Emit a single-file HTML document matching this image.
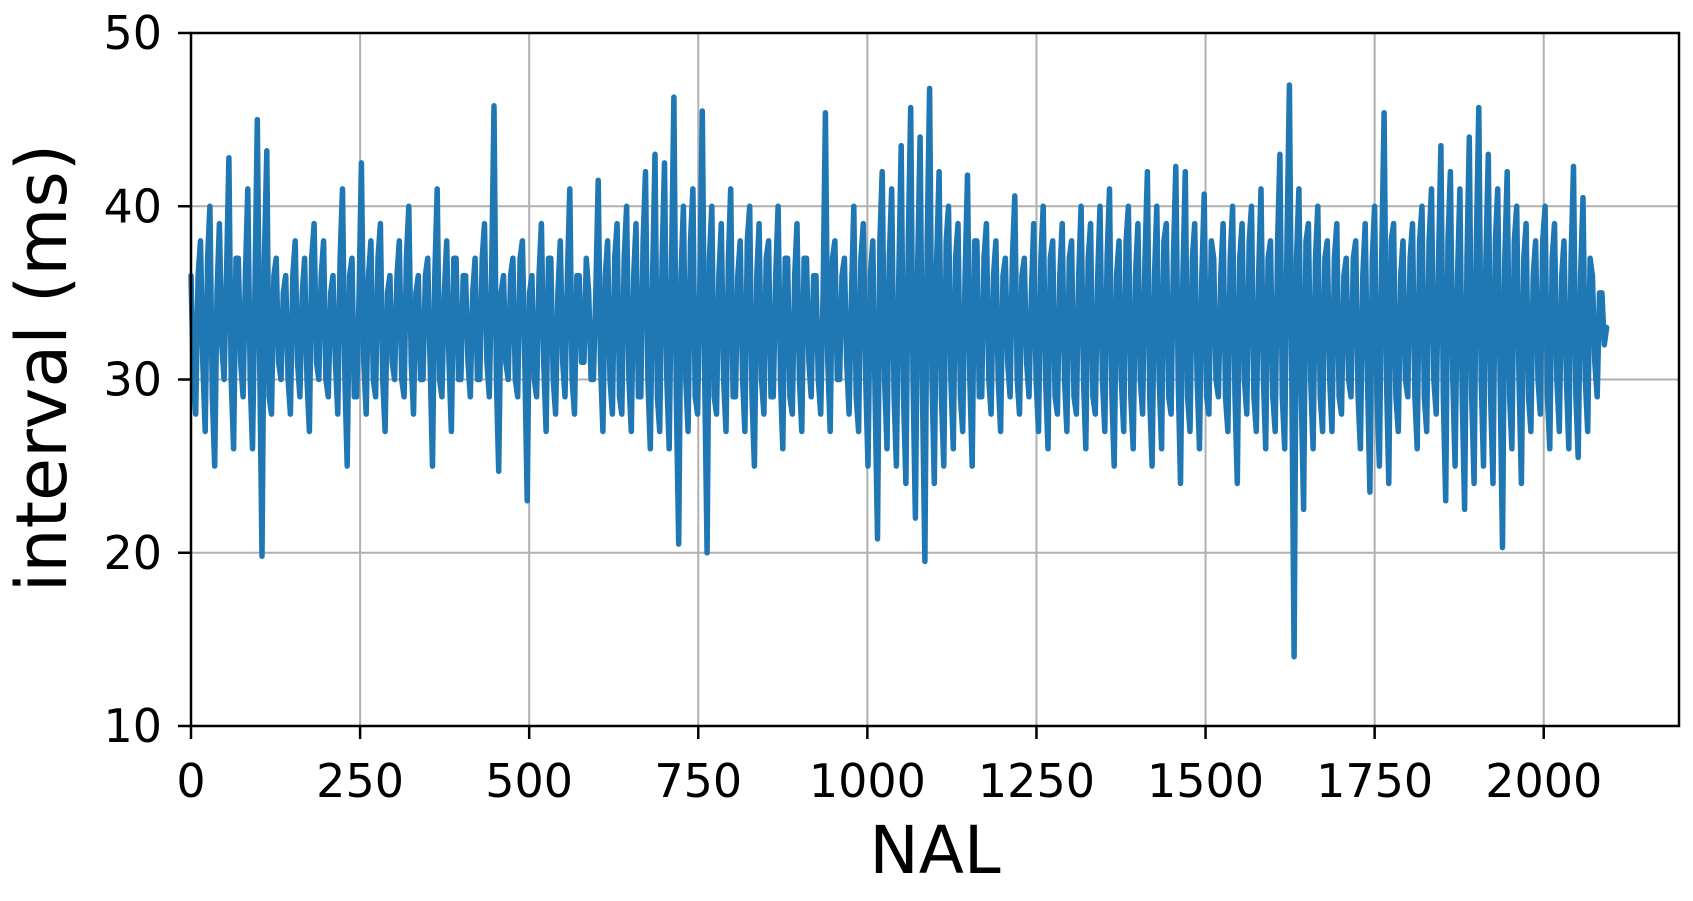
<!DOCTYPE html>
<html><head><meta charset="utf-8"><style>
html,body{margin:0;padding:0;background:#fff}
svg{display:block;font-family:"DejaVu Sans","Liberation Sans",sans-serif}
</style></head><body>
<svg id="chart" width="1693" height="901" viewBox="0 0 1693 901" xmlns="http://www.w3.org/2000/svg">
<g id="grid"></g>
<g id="series"></g>
<rect x="191" y="33" width="1488" height="693" fill="none" stroke="#000" stroke-width="2.5"/>
<g id="ticks"></g>
<text x="935" y="873" font-size="66" text-anchor="middle">NAL</text>
<text transform="translate(66,368) rotate(-90)" font-size="70" text-anchor="middle">interval (ms)</text>
</svg>
<script>
const xTicks=[0,250,500,750,1000,1250,1500,1750,2000];
const yTicks=[10,20,30,40,50];
const xStep=7;
const intervals=[
36,28,38,27,40,25,39,30,42.8,26,
37,29,41,26,45,19.8,43.2,28,37,30,
36,28,38,29,37,27,39,30,38,29,
36,28,41,25,37,29,42.5,28,38,29,
39,27,36,30,38,29,40,28,36,30,
37,25,41,29,38,27,37,30,36,29,
37,30,39,29,45.8,24.7,36,30,37,29,
38,23,36,29,39,27,37,28,38,29,
41,28,36,31,35,30,41.5,27,38,28,
39,28,40,27,39,29,42,26,43,27,
42.5,26,46.3,20.5,40,27,41,28,45.5,20,
40,28,39,27,41,29,38,27,40,25,
39,28,38,29,40,26,37,28,39,27,
37,29,36,28,45.4,27,38,30,37,28,
40,27,39,25,38,20.8,42,26,41,25,
43.5,24,45.7,22,44,19.5,46.8,24,42,25,
40,26,39,27,41.8,25,38,29,39,28,
38,27,37,29,40.6,28,37,29,39,27,
40,26,38,28,39,27,38,28,40,26,
39,28,40,27,41,25,38,27,40,26,
39,28,42,25,40,26,39,28,42.3,24,
42,27,39,26,40.7,28,37,29,39,27,
40,24,39,28,40,27,41,26,38,27,
43,26,47,14,41,22.5,39,26,40,27,
38,27,39,28,37,29,38,26,39,23.5,
40,25,45.4,24,39,27,38,29,39,26,
40,27,41,28,43.5,23,42,25,41,22.5,
44,24,45.7,25,43,24,41,20.3,42,26,
40,24,39,27,38,28,40,26,39,27,
38,26,42.3,25.5,40.5,27,36,29,35,33];
const midIntervals=[
30,36,31,37,29,35,32,36,30,37,
31,36,30,35,31,37,29,36,31,35,
30,36,31,35,30,37,31,36,30,35,
31,37,30,36,29,35,31,36,30,37,
30,35,31,36,30,37,31,35,30,36,
31,36,30,35,31,37,30,36,31,35,
30,37,31,36,30,35,31,36,30,37,
31,35,30,36,31,37,30,35,31,36,
30,36,31,37,30,35,31,36,30,37,
29,37,30,36,29,38,30,36,29,37,
30,37,29,36,30,38,29,36,30,37,
29,36,30,37,29,36,30,38,29,36,
30,37,29,36,30,37,29,36,30,37,
31,36,30,35,31,37,30,36,31,35,
29,37,30,36,29,38,30,37,29,36,
29,38,30,37,29,38,30,37,29,38,
30,37,29,36,30,38,29,37,30,36,
30,36,31,37,30,36,31,35,30,37,
30,37,29,36,30,37,29,36,30,37,
29,36,30,37,29,36,30,38,29,36,
30,37,29,36,30,38,29,37,30,36,
29,37,30,36,29,38,30,36,29,37,
29,37,30,38,29,36,30,37,29,38,
29,38,30,37,29,38,30,37,29,37,
30,37,29,36,30,37,29,36,30,37,
29,37,30,38,29,36,30,37,29,38,
29,38,30,37,29,38,30,36,29,37,
29,38,30,37,29,38,30,37,29,38,
30,37,29,36,30,38,29,37,30,36,
30,37,29,36,30,37,31,35,32,34];
const NS="http://www.w3.org/2000/svg";
const X0=191,X1=1679,Y0=726,Y1=33,XMAX=2200,YMIN=10,YMAX=50;
function sx(v){return X0+(v/XMAX)*(X1-X0);}
function sy(v){return Y0-(v-YMIN)/(YMAX-YMIN)*(Y0-Y1);}
function mk(t,a,p){const e=document.createElementNS(NS,t);for(const k in a)e.setAttribute(k,a[k]);p.appendChild(e);return e;}
const grid=document.getElementById('grid'),ticks=document.getElementById('ticks'),series=document.getElementById('series');
xTicks.forEach(v=>{
 const x=sx(v);
 const g=mk('line',{x1:x,x2:x,y1:Y1,y2:Y0,stroke:'#b0b0b0','stroke-width':2},grid);
 
 
 const t=mk('line',{x1:x,x2:x,y1:Y0,y2:Y0+13,stroke:'#000','stroke-width':2.5},ticks);
 
 
 const l=mk('text',{x:x,y:797,'font-size':46,'text-anchor':'middle'},ticks);
 l.textContent=v;
 
 
});
yTicks.forEach(v=>{
 const y=sy(v);
 const g=mk('line',{x1:X0,x2:X1,y1:y,y2:y,stroke:'#b0b0b0','stroke-width':2},grid);
 
 
 const t=mk('line',{x1:X0-13,x2:X0,y1:y,y2:y,stroke:'#000','stroke-width':2.5},ticks);
 
 
 const l=mk('text',{x:162,y:y+16,'font-size':46,'text-anchor':'end'},ticks);
 l.textContent=v;
 
 
});
const seq=[];
intervals.forEach((v,i)=>{
 seq.push([i*xStep,v]);
 if(i<midIntervals.length&&i<intervals.length-1)seq.push([i*xStep+xStep/2,midIntervals[i]]);
});
const pts=seq.map(p=>sx(p[0]).toFixed(1)+','+sy(p[1]).toFixed(1)).join(' ');
const pl=mk('polyline',{points:pts,fill:'none',stroke:'#1f77b4','stroke-width':5.5,'stroke-linejoin':'round','stroke-linecap':'round'},series);


</script>
</body></html>
